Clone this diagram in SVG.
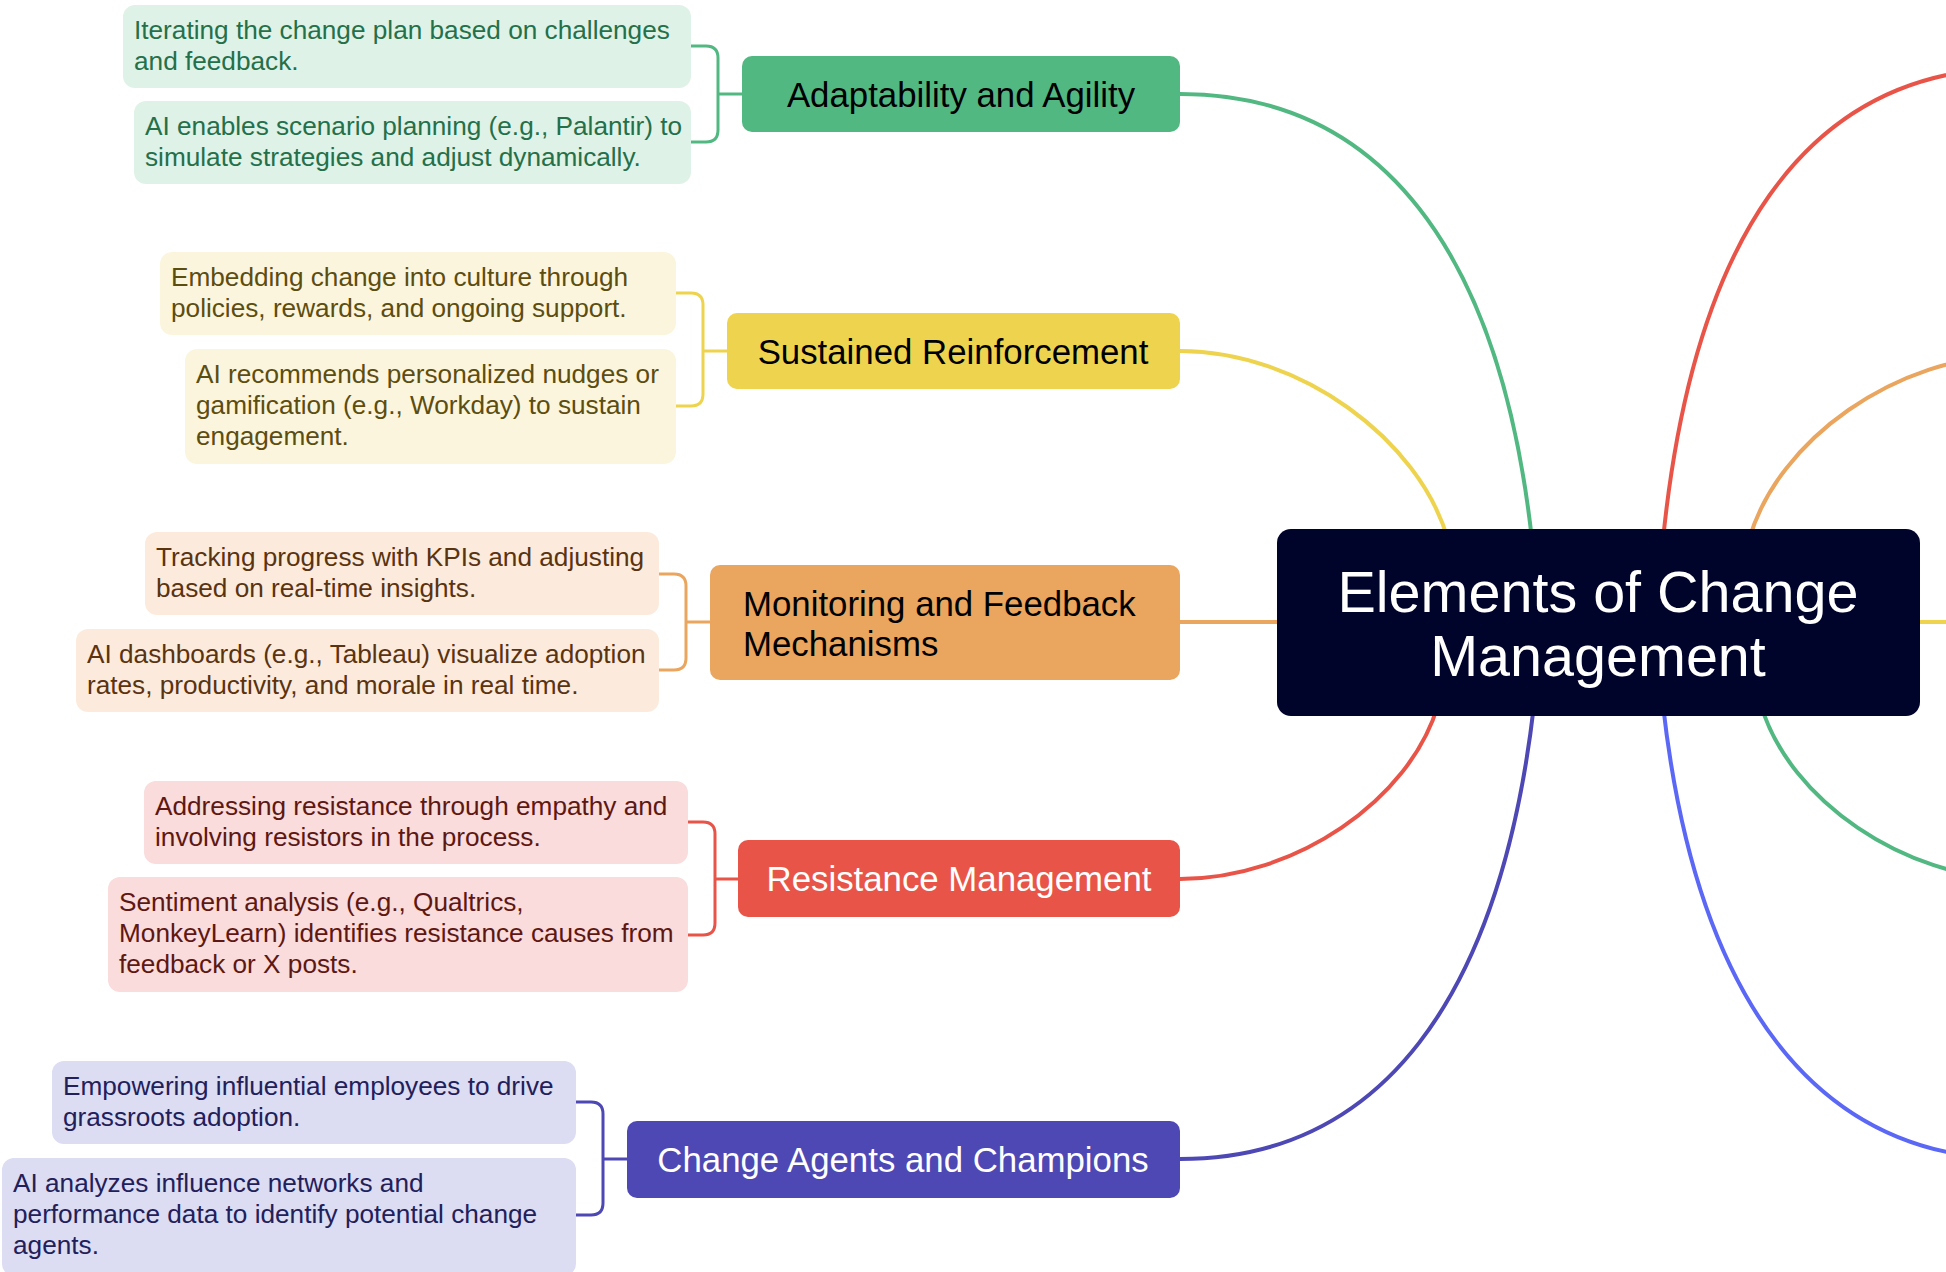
<svg xmlns="http://www.w3.org/2000/svg" width="1946" height="1272" viewBox="0 0 1946 1272">
<style>
text{font-family:"Liberation Sans",Arial,sans-serif}
.leaf{font-size:26.2px}
.main{font-size:34.8px}
.center{font-size:57.5px;fill:#ffffff;text-anchor:middle}
.conn{fill:none;stroke-width:4;stroke-linecap:round}
.brk{fill:none;stroke-width:3}
.g{stroke:#52b882}.y{stroke:#eed44e}.o{stroke:#eaa55e}.r{stroke:#e85548}.i{stroke:#4d48b4}.b{stroke:#5b68f6}
</style>
<rect width="1946" height="1272" fill="#ffffff"/>
<g id="connectors">
<path class="conn g" d="M1180,94 C1380,94 1500,250 1532,540"/>
<path class="conn y" d="M1180,351 C1300,351 1420,440 1448,540"/>
<path class="conn o" d="M1180,622 H1290"/>
<path class="conn r" d="M1180,879 C1295,879 1410,800 1438,705"/>
<path class="conn i" d="M1180,1159 C1380,1159 1500,1000 1534,705"/>
<path class="conn r" d="M1663,540 C1692,250 1800,68 2017,68"/>
<path class="conn o" d="M1749,540 C1777,440 1897,355 2017,355"/>
<path class="conn y" d="M1900,622 H1960"/>
<path class="conn g" d="M1761,705 C1789,800 1905,879 2017,879"/>
<path class="conn b" d="M1663,705 C1696,1000 1816,1159 2017,1159"/>
<path class="brk g" d="M691,46 H706 Q718,46 718,58 V130 Q718,142 706,142 H691 M718,94 H742"/>
<path class="brk y" d="M676,293 H691 Q703,293 703,305 V394 Q703,406 691,406 H676 M703,351 H727"/>
<path class="brk o" d="M659,574 H674 Q686,574 686,586 V658 Q686,670 674,670 H659 M686,622 H710"/>
<path class="brk r" d="M688,822 H703 Q715,822 715,834 V923 Q715,935 703,935 H688 M715,879 H738"/>
<path class="brk i" d="M576,1102 H591 Q603,1102 603,1114 V1203 Q603,1215 591,1215 H576 M603,1159 H627"/>
</g>
<g id="center">
<rect x="1277" y="529" width="643" height="187" rx="14" fill="#00032a"/>
<text class="center" x="1598" y="612">Elements of Change</text>
<text class="center" x="1598" y="676">Management</text>
</g>
<g id="main-adaptability">
<rect x="742" y="56" width="438" height="76" rx="10" fill="#52b882"/>
<text class="main" x="961" y="107" text-anchor="middle" fill="#000000">Adaptability and Agility</text>
</g>
<g id="main-sustained">
<rect x="727" y="313" width="453" height="76" rx="10" fill="#eed44e"/>
<text class="main" x="953" y="364" text-anchor="middle" fill="#000000">Sustained Reinforcement</text>
</g>
<g id="main-monitoring">
<rect x="710" y="565" width="470" height="115" rx="10" fill="#eaa55e"/>
<text class="main" x="743" y="616" fill="#000000">Monitoring and Feedback</text>
<text class="main" x="743" y="656" fill="#000000">Mechanisms</text>
</g>
<g id="main-resistance">
<rect x="738" y="840" width="442" height="77" rx="10" fill="#e85548"/>
<text class="main" x="959" y="891" text-anchor="middle" fill="#ffffff">Resistance Management</text>
</g>
<g id="main-agents">
<rect x="627" y="1121" width="553" height="77" rx="10" fill="#4d48b4"/>
<text class="main" x="903" y="1172" text-anchor="middle" fill="#ffffff">Change Agents and Champions</text>
</g>
<g id="leaf-1a">
<rect x="123" y="5" width="568" height="83" rx="12" fill="#dff2e7"/>
<text class="leaf" x="134" y="39" fill="#24704a">Iterating the change plan based on challenges</text>
<text class="leaf" x="134" y="70" fill="#24704a">and feedback.</text>
</g>
<g id="leaf-1b">
<rect x="134" y="101" width="557" height="83" rx="12" fill="#dff2e7"/>
<text class="leaf" x="145" y="135" fill="#24704a">AI enables scenario planning (e.g., Palantir) to</text>
<text class="leaf" x="145" y="166" fill="#24704a">simulate strategies and adjust dynamically.</text>
</g>
<g id="leaf-2a">
<rect x="160" y="252" width="516" height="83" rx="12" fill="#fcf5dd"/>
<text class="leaf" x="171" y="286" fill="#5c4d10">Embedding change into culture through</text>
<text class="leaf" x="171" y="317" fill="#5c4d10">policies, rewards, and ongoing support.</text>
</g>
<g id="leaf-2b">
<rect x="185" y="349" width="491" height="115" rx="12" fill="#fcf5dd"/>
<text class="leaf" x="196" y="383" fill="#5c4d10">AI recommends personalized nudges or</text>
<text class="leaf" x="196" y="414" fill="#5c4d10">gamification (e.g., Workday) to sustain</text>
<text class="leaf" x="196" y="445" fill="#5c4d10">engagement.</text>
</g>
<g id="leaf-3a">
<rect x="145" y="532" width="514" height="83" rx="12" fill="#fcebdd"/>
<text class="leaf" x="156" y="566" fill="#5a3310">Tracking progress with KPIs and adjusting</text>
<text class="leaf" x="156" y="597" fill="#5a3310">based on real-time insights.</text>
</g>
<g id="leaf-3b">
<rect x="76" y="629" width="583" height="83" rx="12" fill="#fcebdd"/>
<text class="leaf" x="87" y="663" fill="#5a3310">AI dashboards (e.g., Tableau) visualize adoption</text>
<text class="leaf" x="87" y="694" fill="#5a3310">rates, productivity, and morale in real time.</text>
</g>
<g id="leaf-4a">
<rect x="144" y="781" width="544" height="83" rx="12" fill="#f9dcdb"/>
<text class="leaf" x="155" y="815" fill="#5e1712">Addressing resistance through empathy and</text>
<text class="leaf" x="155" y="846" fill="#5e1712">involving resistors in the process.</text>
</g>
<g id="leaf-4b">
<rect x="108" y="877" width="580" height="115" rx="12" fill="#f9dcdb"/>
<text class="leaf" x="119" y="911" fill="#5e1712">Sentiment analysis (e.g., Qualtrics,</text>
<text class="leaf" x="119" y="942" fill="#5e1712">MonkeyLearn) identifies resistance causes from</text>
<text class="leaf" x="119" y="973" fill="#5e1712">feedback or X posts.</text>
</g>
<g id="leaf-5a">
<rect x="52" y="1061" width="524" height="83" rx="12" fill="#dcdcf2"/>
<text class="leaf" x="63" y="1095" fill="#22205a">Empowering influential employees to drive</text>
<text class="leaf" x="63" y="1126" fill="#22205a">grassroots adoption.</text>
</g>
<g id="leaf-5b">
<rect x="2" y="1158" width="574" height="118" rx="12" fill="#dcdcf2"/>
<text class="leaf" x="13" y="1192" fill="#22205a">AI analyzes influence networks and</text>
<text class="leaf" x="13" y="1223" fill="#22205a">performance data to identify potential change</text>
<text class="leaf" x="13" y="1254" fill="#22205a">agents.</text>
</g>
</svg>
